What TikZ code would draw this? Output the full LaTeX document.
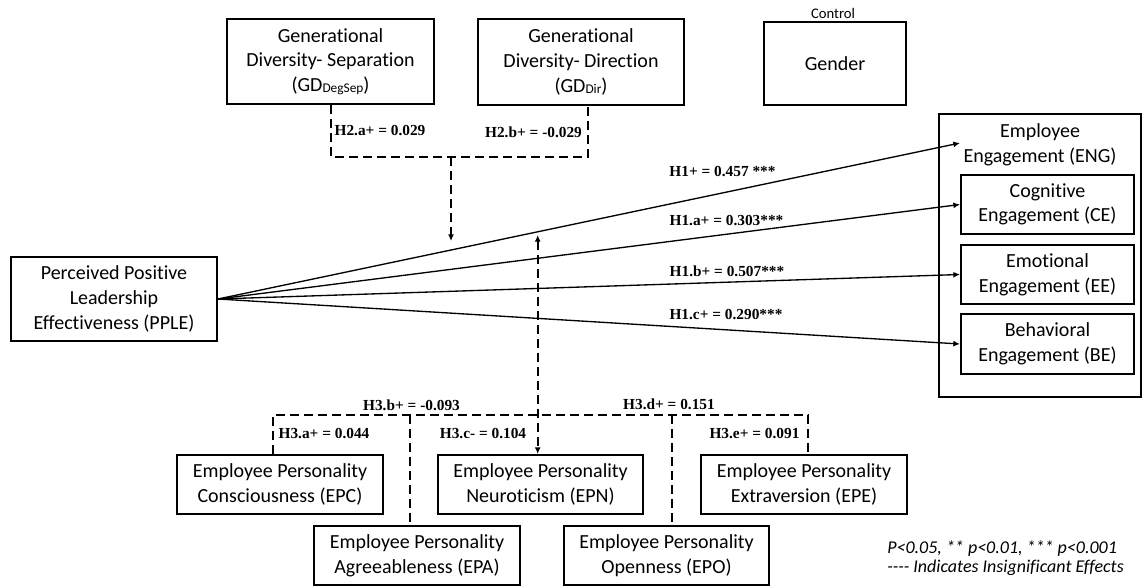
\documentclass[tikz,border=0pt]{standalone}
\usepackage{fontspec}
\setmainfont{Carlito}[Ligatures={NoCommon}]
\newfontfamily\serifbold{Liberation Serif}
\usetikzlibrary{arrows.meta,calc}

\newcommand\boxfnt{\fontsize{15}{18.5}\selectfont}
\newcommand\lblfnt{\serifbold\bfseries\fontsize{11.5}{13}\selectfont}
\newcommand\subfnt[1]{\raisebox{-0.6pt}{\fontsize{10}{12}\selectfont #1}}

\tikzset{
  box/.style={draw, line width=1.5pt, inner sep=0pt, align=center, font=\boxfnt},
  sz/.style 2 args={minimum width=#1*0.75pt, minimum height=#2*0.75pt},
  effect/.style={line width=1pt, -{Latex[length=5pt,width=4.5pt]}},
  dashline/.style={line width=1.5pt, dash pattern=on 6.5pt off 4pt},
  lbl/.style={inner sep=0pt, font=\lblfnt},
}

\begin{document}
\begin{tikzpicture}[x=0.75pt,y=-0.75pt]
\useasboundingbox (0,0) rectangle (1143,586);

% moderators and control
\node[box, sz={207}{85}] (gdsep) at (330.5,61.5) {Generational\\Diversity- Separation\\(GD\subfnt{DegSep})};
\node[box, sz={206}{86}] (gddir) at (581,62) {Generational\\Diversity- Direction\\(GD\subfnt{Dir})};
\node[box, sz={142}{83}] (gender) at (835,63.5) {Gender};
\node[inner sep=0pt, font=\fontsize{11}{13}\selectfont] (ctrl) at (833,13) {Control};

% predictor
\node[box, sz={206}{84}] (pple) at (114,299) {Perceived Positive\\Leadership\\Effectiveness (PPLE)};

% outcomes
\node[box, sz={202}{283}] (eng) at (1040,255.5) {};
\node[inner sep=0pt, align=center, font=\boxfnt] (engtxt) at (1040,145) {Employee\\Engagement (ENG)};
\node[box, sz={173}{59}] (ce) at (1047.5,204.5) {Cognitive\\Engagement (CE)};
\node[box, sz={173}{59}] (ee) at (1047.5,274.5) {Emotional\\Engagement (EE)};
\node[box, sz={173}{60}] (be) at (1047.5,344) {Behavioral\\Engagement (BE)};

% personality moderators
\node[box, sz={206}{59}] (epc) at (280,484.5) {Employee Personality\\Consciousness (EPC)};
\node[box, sz={205}{59}] (epn) at (540.5,484.5) {Employee Personality\\Neuroticism (EPN)};
\node[box, sz={206}{59}] (epe) at (804,484.5) {Employee Personality\\Extraversion (EPE)};
\node[box, sz={206}{59}] (epa) at (417,555.5) {Employee Personality\\Agreeableness (EPA)};
\node[box, sz={205}{59}] (epo) at (666.5,555.5) {Employee Personality\\Openness (EPO)};

% direct effects
\coordinate (engin) at (960,143);
\draw[effect] (pple.east) -- (engin);
\draw[effect] (pple.east) -- (ce.west);
\draw[effect] (pple.east) -- (ee.west);
\draw[effect] (pple.east) -- (be.west);

\node[lbl] (h1) at (722.5,171.5) {H1+ = 0.457 ***};
\node[lbl] (h1a) at (726.5,220.5) {H1.a+ = 0.303***};
\node[lbl] (h1b) at (727,271.5) {H1.b+ = 0.507***};
\node[lbl] (h1c) at (726,315) {H1.c+ = 0.290***};

% generational diversity moderation
\coordinate (h2bar) at (451,157);
\coordinate (h2tip) at (451,241);
\draw[dashline] ($(gdsep.south)+(0.5,0)$) |- (h2bar) -| ($(gddir.south)+(7,0)$);
\draw[dashline, -{Latex[length=5pt,width=4.5pt]}] (h2bar) -- (h2tip);
\node[lbl] (h2a) at (380,131) {H2.a+ = 0.029};
\node[lbl] (h2b) at (533.5,132) {H2.b+ = -0.029};

% personality moderation
\coordinate (barL) at (273,415);
\coordinate (barR) at (808,415);
\coordinate (barA) at (410,415);
\coordinate (barN) at (537.7,415);
\coordinate (barO) at (671.7,415);
\coordinate (h3tip) at (537.7,235);
\draw[dashline] (epc.north -| barL) -- (barL) -- (barR) -- (epe.north -| barR);
\draw[dashline] (barA) -- (epa.north -| barA);
\draw[dashline] (barO) -- (epo.north -| barO);
\draw[dashline, {Latex[length=5pt,width=4.5pt]}-{Latex[length=5pt,width=4.5pt]}] (h3tip) -- (epn.north -| barN);

\node[lbl] (h3a) at (324,434) {H3.a+ = 0.044};
\node[lbl] (h3b) at (411.5,405) {H3.b+ = -0.093};
\node[lbl] (h3c) at (483,434) {H3.c- = 0.104};
\node[lbl] (h3d) at (669,404) {H3.d+ = 0.151};
\node[lbl] (h3e) at (754.5,434) {H3.e+ = 0.091};

% significance note
\node[inner sep=0pt, anchor=west, align=left, font=\itshape\fontsize{13.5}{14}\selectfont] (note) at (887,558)
  {P<0.05, ** p<0.01, *** p<0.001\\-\kern0pt-\kern0pt-\kern0pt- Indicates Insignificant Effects};
\end{tikzpicture}
\end{document}
